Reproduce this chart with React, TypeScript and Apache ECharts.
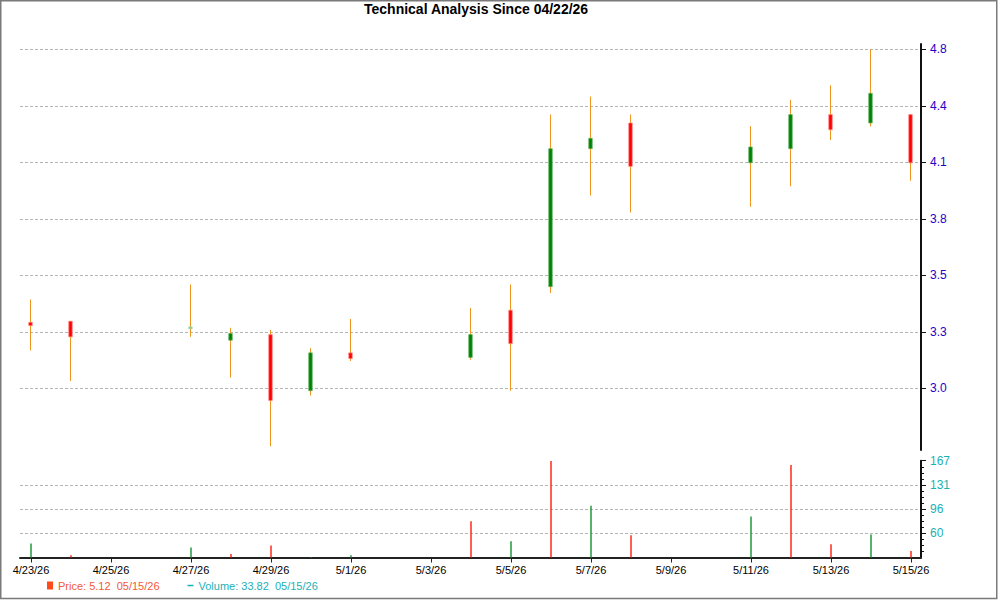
import React, { useEffect, useRef } from 'react';
import * as echarts from 'echarts';

// every calendar day on the time axis (weekends leave gaps)
const CALENDAR_DAYS = [
  '4/23/26', '4/24/26', '4/25/26', '4/26/26', '4/27/26', '4/28/26', '4/29/26', '4/30/26',
  '5/1/26', '5/2/26', '5/3/26', '5/4/26', '5/5/26', '5/6/26', '5/7/26', '5/8/26',
  '5/9/26', '5/10/26', '5/11/26', '5/12/26', '5/13/26', '5/14/26', '5/15/26',
];
const X_TICK_DAYS = [
  '4/23/26', '4/25/26', '4/27/26', '4/29/26', '5/1/26', '5/3/26',
  '5/5/26', '5/7/26', '5/9/26', '5/11/26', '5/13/26', '5/15/26',
];

const TRADE_DAYS = [
  '4/23/26', '4/24/26', '4/27/26', '4/28/26', '4/29/26', '4/30/26', '5/1/26', '5/4/26', '5/5/26',
  '5/6/26', '5/7/26', '5/8/26', '5/11/26', '5/12/26', '5/13/26', '5/14/26', '5/15/26',
];
const OPEN = [3.295, 3.30, 3.27, 3.215, 3.24, 3.00, 3.16, 3.14, 3.35, 3.46, 4.18, 4.33, 4.10, 4.18, 4.38, 4.33, 4.38];
const CLOSE = [3.28, 3.23, 3.27, 3.245, 2.96, 3.16, 3.135, 3.24, 3.20, 4.18, 4.24, 4.08, 4.19, 4.38, 4.29, 4.51, 4.10];
const LOW = [3.17, 3.04, 3.23, 3.055, 2.78, 2.98, 3.125, 3.13, 3.00, 3.43, 3.92, 3.83, 3.86, 3.97, 4.23, 4.31, 4.00];
const HIGH = [3.40, 3.30, 3.47, 3.27, 3.26, 3.18, 3.31, 3.36, 3.47, 4.38, 4.49, 4.38, 4.31, 4.47, 4.56, 4.79, 4.38];
const VOLUME = [45.1, 27.5, 39.2, 29.4, 42.1, 25.0, 27.5, 77.6, 48.4, 166.7, 100.5, 57.2, 84.9, 160.8, 44.0, 58.2, 33.82];
const VOLUME_UP = [true, false, true, false, false, true, true, false, true, false, true, false, true, false, false, true, false];

// log price axis: ticks are evenly spaced in log space
const PRICE_TICKS = [3.01, 3.252, 3.514, 3.797, 4.102, 4.432, 4.79];
const PRICE_TICK_LABELS = ['3.0', '3.3', '3.5', '3.8', '4.1', '4.4', '4.8'];
const PRICE_AXIS = [2.766, 4.825];

const VOLUME_TICKS = [60, 95.67, 131.33, 167];
const VOLUME_TICK_LABELS = ['60', '96', '131', '167'];
const VOLUME_AXIS = [24.33, 167];

const LAST_PRICE = '5.12';
const LAST_VOLUME = '33.82';
const LAST_DATE = '05/15/26';

const FONT = "'Liberation Sans', Arial, sans-serif";
const GRID_LINE = { show: true, lineStyle: { color: '#b4b4b4', type: [3, 2], width: 1 } };
const WICK = '#f0961e';

const dayIndex = (d: string) => CALENDAR_DAYS.indexOf(d);

const App: React.FC = () => {
  const chartRef = useRef<HTMLDivElement>(null);

  useEffect(() => {
    if (!chartRef.current) return;
    const chart = echarts.init(chartRef.current, null, { renderer: 'svg' });

    const xMin = -0.275;
    const xMax = CALENDAR_DAYS.length - 1 + 0.25;
    const xTicks = X_TICK_DAYS.map(dayIndex);

    const candleData = TRADE_DAYS.map((d, i) => [
      dayIndex(d),
      Math.log(OPEN[i]),
      Math.log(CLOSE[i]),
      Math.log(LOW[i]),
      Math.log(HIGH[i]),
    ]);

    const volumeData = TRADE_DAYS.map((d, i) => ({
      value: [dayIndex(d), VOLUME[i]],
      itemStyle: { color: VOLUME_UP[i] ? '#1f9a3a' : '#ff2a1a' },
    }));

    const volStep = (VOLUME_AXIS[1] - VOLUME_AXIS[0]) / 16;
    const volMinor: number[] = [];
    for (let k = 0; k <= 16; k++) {
      if (k % 4 !== 0) volMinor.push(VOLUME_AXIS[0] + k * volStep);
    }

    const renderCandle = (params: any, api: any) => {
      const x = api.value(0);
      const o = api.coord([x, api.value(1)]);
      const c = api.coord([x, api.value(2)]);
      const l = api.coord([x, api.value(3)]);
      const h = api.coord([x, api.value(4)]);
      const i = params.dataIndex;
      const flat = CLOSE[i] === OPEN[i];
      const up = CLOSE[i] > OPEN[i];
      let top = Math.min(o[1], c[1]);
      let height = Math.abs(o[1] - c[1]);
      if (height < 2) {
        top -= (2 - height) / 2;
        height = 2;
      }
      const fill = flat ? '#8cc88c' : up ? '#008000' : '#ff0000';
      const stroke = flat ? '#a8d8a8' : up ? '#60b060' : '#ff8484';
      const cx = Math.round(o[0]);
      return {
        type: 'group',
        children: [
          {
            type: 'rect',
            shape: { x: cx - 1, y: h[1], width: 1, height: l[1] - h[1] },
            style: { fill: WICK, stroke: null, opacity: 1 },
          },
          {
            type: 'rect',
            shape: { x: cx - 2.25, y: top, width: 3.5, height },
            style: { fill, stroke, lineWidth: 0.75 },
          },
        ],
      };
    };

    const priceLabel = (v: number) => {
      let best = 0;
      PRICE_TICKS.forEach((t, i) => {
        if (Math.abs(Math.log(t) - v) < Math.abs(Math.log(PRICE_TICKS[best]) - v)) best = i;
      });
      return PRICE_TICK_LABELS[best];
    };
    const volumeLabel = (v: number) => {
      let best = 0;
      VOLUME_TICKS.forEach((t, i) => {
        if (Math.abs(t - v) < Math.abs(VOLUME_TICKS[best] - v)) best = i;
      });
      return VOLUME_TICK_LABELS[best];
    };

    const option = {
      animation: false,
      backgroundColor: '#ffffff',
      textStyle: { fontFamily: FONT },
      title: {
        text: 'Technical Analysis Since 04/22/26',
        left: 364,
        top: 2,
        padding: 0,
        textStyle: { fontFamily: FONT, fontSize: 14, fontWeight: 'bold', color: '#000' },
      },
      legend: {
        left: 47,
        top: 580,
        padding: 0,
        itemGap: 28,
        itemWidth: 6,
        itemHeight: 8,
        selectedMode: false,
        textStyle: { fontFamily: FONT, fontSize: 11 },
        formatter: (name: string) =>
          name === 'Price' ? `Price: ${LAST_PRICE}  ${LAST_DATE}` : `Volume: ${LAST_VOLUME}  ${LAST_DATE}`,
        data: [
          {
            name: 'Price',
            icon: 'rect',
            itemStyle: { color: '#ff4a1c' },
            textStyle: { color: '#f25a3a' },
          },
          {
            name: 'Volume',
            icon: 'path://M0,0H6V1.5H0Z',
            itemStyle: { color: '#1ab0b8' },
            textStyle: { color: '#1ab0b8' },
          },
        ],
      },
      graphic: [
        {
          type: 'rect',
          shape: { x: 0.75, y: 0.75, width: 996, height: 597.75 },
          style: { fill: 'none', stroke: '#7a7a7a', lineWidth: 1.5 },
          silent: true,
        },
      ],
      grid: [
        { left: 20, right: 79, top: 44, bottom: 150 },
        { left: 20, right: 79, top: 460.7, bottom: 42.5 },
      ],
      xAxis: [
        { type: 'value', gridIndex: 0, min: xMin, max: xMax, show: false },
        {
          type: 'value',
          gridIndex: 1,
          min: xMin,
          max: xMax,
          axisLine: { show: true, onZero: false, lineStyle: { color: '#222', width: 2 } },
          axisTick: { show: true, customValues: xTicks, length: 5, lineStyle: { color: '#222' } },
          axisLabel: {
            customValues: xTicks,
            formatter: (v: number) => CALENDAR_DAYS[Math.round(v)] ?? '',
            color: '#000',
            fontSize: 11,
            fontFamily: FONT,
            margin: 7,
          },
          splitLine: { show: false },
        },
      ],
      yAxis: [
        {
          type: 'value',
          gridIndex: 0,
          position: 'right',
          min: Math.log(PRICE_AXIS[0]),
          max: Math.log(PRICE_AXIS[1]),
          axisLine: { show: true, onZero: false, lineStyle: { color: '#111', width: 2 } },
          axisTick: {
            show: true,
            customValues: PRICE_TICKS.map((t) => Math.log(t)),
            length: 5,
            lineStyle: { color: '#111' },
          },
          axisLabel: {
            customValues: PRICE_TICKS.map((t) => Math.log(t)),
            formatter: priceLabel,
            color: '#2400c8',
            fontSize: 12,
            fontFamily: FONT,
            margin: 9,
          },
          splitLine: GRID_LINE,
        },
        {
          type: 'value',
          gridIndex: 1,
          position: 'right',
          min: VOLUME_AXIS[0],
          max: VOLUME_AXIS[1],
          axisLine: { show: true, onZero: false, lineStyle: { color: '#111', width: 2 } },
          axisTick: { show: true, customValues: VOLUME_TICKS, length: 5, lineStyle: { color: '#111' } },
          axisLabel: {
            customValues: VOLUME_TICKS,
            formatter: volumeLabel,
            color: '#1ab0b8',
            fontSize: 12,
            fontFamily: FONT,
            margin: 9,
          },
          splitLine: { show: false },
        },
        {
          type: 'value',
          gridIndex: 1,
          position: 'right',
          min: VOLUME_AXIS[0],
          max: VOLUME_AXIS[1],
          axisLine: { show: false, onZero: false },
          axisTick: { show: true, customValues: volMinor, length: 3, lineStyle: { color: '#111' } },
          axisLabel: { show: false },
          splitLine: { show: false },
        },
        {
          type: 'value',
          gridIndex: 1,
          position: 'right',
          min: VOLUME_AXIS[0],
          max: VOLUME_AXIS[1],
          axisLine: { show: false, onZero: false },
          axisTick: { show: false, customValues: VOLUME_TICKS.slice(0, 3) },
          axisLabel: { show: false },
          splitLine: GRID_LINE,
        },
      ],
      series: [
        {
          name: 'Price',
          type: 'custom',
          xAxisIndex: 0,
          yAxisIndex: 0,
          renderItem: renderCandle,
          encode: { x: 0, y: [1, 2, 3, 4] },
          itemStyle: { color: '#ff4a1c' },
          data: candleData,
          z: 5,
        },
        {
          name: 'Volume',
          type: 'bar',
          xAxisIndex: 1,
          yAxisIndex: 1,
          barWidth: 1.5,
          itemStyle: { color: '#1ab0b8' },
          data: volumeData,
          z: 5,
        },
      ],
    };

    chart.setOption(option);

    return () => {
      chart.dispose();
    };
  }, []);

  return (
    <div
      ref={chartRef}
      style={{ position: 'fixed', left: 0, top: 0, width: '1000px', height: '600px', background: '#fff' }}
    />
  );
};

export default App;
